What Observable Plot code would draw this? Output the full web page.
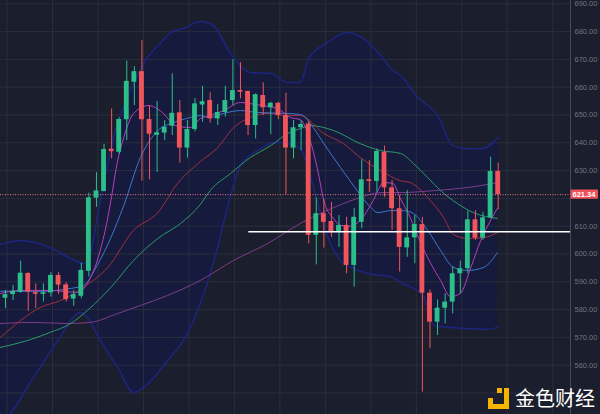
<!DOCTYPE html>
<html><head><meta charset="utf-8">
<script src="https://cdn.jsdelivr.net/npm/d3@7"></script>
<script src="https://cdn.jsdelivr.net/npm/@observablehq/plot@0.6"></script>
<style>
html,body{margin:0;padding:0;background:#1b1e2c;}
#wrap{position:relative;width:600px;height:414px;overflow:hidden;}
#wm{position:absolute;left:488px;top:387px;height:22px;display:flex;align-items:center;}
#wm span{font-family:"Noto Sans CJK SC",sans-serif;font-size:20px;line-height:22px;color:#ffffff;margin-left:6px;letter-spacing:0px;}
</style></head><body>
<div id="wrap"><div id="chart"></div>
<div id="wm"><svg width="21" height="21" viewBox="0 0 21 21"><rect x="9" y="0" width="5" height="5" fill="#f5b400"/><rect x="16" y="0" width="5" height="21" fill="#f5b400"/><rect x="0" y="16" width="21" height="5" fill="#f5b400"/><rect x="0" y="10" width="5" height="6" fill="#f5b400"/></svg><span>金色财经</span></div>
</div>
<script>
// Candles (index 0..65)
const open = [584.1,585.4,586.2,593.0,586.1,585.5,586.0,592.3,588.9,583.8,
  584.8,593.8,620.1,622.5,637.7,636.6,648.3,661.8,665.6,648.4,
  642.7,643.5,646.0,650.8,638.1,644.8,653.6,655.2,648.6,650.9,
  655.2,658.8,658.5,646.2,657.0,652.6,654.2,649.8,638.1,645.4,
  646.8,606.7,614.5,611.7,608.1,610.3,595.9,611.4,626.7,626.1,
  636.6,623.8,616.3,602.2,605.8,610.6,585.9,575.5,580.5,582.7,
  592.9,594.7,612.3,605.7,613.0,629.7];
const high = [586.9,588.7,597.4,593.3,589.3,589.3,593.3,593.3,589.7,586.9,
  596.7,621.9,629.3,639.4,652.2,649.0,669.4,667.4,676.8,653.4,
  654.9,648.0,664.8,655.2,648.0,655.9,660.3,658.0,653.8,660.3,
  669.9,668.8,658.5,657.6,661.6,654.6,654.6,657.8,648.0,648.0,
  647.8,620.2,619.6,618.6,613.8,613.2,616.3,633.9,633.6,637.8,
  638.8,626.4,621.0,622.8,613.8,613.2,587.1,583.5,585.7,595.5,
  597.4,615.4,615.6,615.0,634.8,632.7];
const low = [580.4,583.3,585.9,579.4,580.4,582.7,584.5,585.4,582.7,581.2,
  583.9,591.7,616.8,622.3,634.2,635.8,640.8,653.4,626.2,626.7,
  629.4,640.8,642.6,632.7,634.5,644.0,647.4,647.1,646.2,649.2,
  653.4,655.8,642.6,641.4,649.8,642.9,648.3,621.4,634.2,637.2,
  603.7,596.1,602.1,606.0,602.4,592.9,588.1,609.1,622.2,622.2,
  620.4,608.5,593.5,598.8,596.5,550.3,565.9,570.7,574.9,578.5,
  585.7,592.9,604.9,604.9,612.7,615.9];
const close = [585.4,586.6,593.1,586.3,585.5,586.1,592.3,588.8,583.6,585.4,
  594.1,620.2,622.7,637.6,636.8,648.4,662.1,665.6,648.3,643.1,
  643.6,645.6,650.6,638.1,644.8,654.0,654.8,648.6,650.9,655.2,
  658.8,658.2,646.2,657.3,652.6,654.2,649.8,638.1,645.4,646.6,
  606.7,614.5,611.4,608.1,610.3,595.9,613.2,626.7,626.1,636.9,
  623.8,616.3,602.4,605.8,610.6,585.9,575.5,580.5,582.7,592.9,
  594.7,612.3,605.7,613.0,629.7,621.34];

// Bollinger bands (position in candle index, price)
const upperIdx = [-0.66,2.0,5.9,8.6,10.3,11.0,12.5,14.5,16.5,18.2,20.5,21.8,23.5,25.7,27.4,29.7,32.3,35.0,37.2,38.9,40.0,42.5,45.1,47.2,49.5,51.1,52.1,54.4,57.0,59.0,61.0,62.9,65.0];
const upperVal = [603.4,604.9,602.3,598.4,596.6,598.4,619.2,644.4,658.8,668.5,676.1,679.7,681.1,683.6,682.2,672.1,665.3,664.9,661.7,661.7,670.3,676.1,679.7,677.5,671.4,666.0,664.2,656.3,649.8,639.0,637.9,637.9,641.9];
const lowerIdx = [-0.66,0.66,3.7,6.9,9.9,10.8,12.5,14.8,16.9,18.2,21.4,24.0,25.7,27.7,29.7,31.0,33.2,35.9,38.9,40.2,42.2,44.2,45.9,48.5,50.8,52.1,53.8,55.1,56.5,58.7,61.0,63.6,64.9];
const lowerVal = [538.5,542.7,555.6,568.9,579.0,577.2,568.9,559.2,550.2,552.0,561.7,571.4,582.2,599.5,621.0,631.8,637.2,640.1,637.9,628.2,608.5,597.7,594.8,592.6,591.9,589.8,587.6,585.1,574.3,573.6,573.2,572.9,573.6];

// Moving averages
const ma5Idx = [-0.66,2.0,5.9,9.5,10.8,12.5,13.5,13.9,14.8,15.6,16.9,18.9,20.7,22.4,24.4,25.7,27.0,28.8,31.0,32.3,33.9,35.9,37.6,38.9,40.2,41.2,42.0,43.3,44.2,45.5,47.1,48.5,49.9,51.1,52.1,53.4,54.8,56.1,57.4,58.7,60.0,61.4,62.7,64.0,64.9];
const ma5Val = [585.8,586.9,586.9,586.2,589.4,601.3,613.1,619.2,633.6,641.9,650.6,653.4,650.9,646.2,645.5,648.7,649.8,651.6,654.5,654.1,653.4,652.3,649.1,648.3,640.8,630.0,619.2,612.7,610.3,610.0,613.1,619.2,625.7,625.4,620.0,613.1,603.8,596.6,590.5,584.7,585.8,595.2,604.9,612.1,616.4];
const ma10Idx = [-0.66,4.6,8.6,10.3,12.1,13.9,15.6,17.8,20.1,22.2,24.4,25.7,27.0,28.8,31.0,33.2,36.7,38.9,40.6,42.0,44.2,46.4,48.2,49.1,50.8,52.5,53.8,55.7,57.4,59.1,61.0,63.1,64.9];
const ma10Val = [586.6,586.6,587.6,588.7,595.9,605.9,617.4,634.7,644.4,647.3,649.1,649.8,649.1,650.6,651.6,650.9,650.6,650.2,645.5,639.7,631.1,622.8,616.7,614.9,615.6,615.6,614.6,608.5,601.3,595.2,594.1,595.2,600.5];
const ma20Idx = [-0.66,2.0,4.6,7.3,10.3,13.5,16.9,20.1,22.7,25.7,28.0,30.1,32.3,34.6,37.2,38.9,42.0,44.6,46.8,49.5,52.1,53.4,55.7,57.8,59.1,61.0,63.1,64.9];
const ma20Val = [570.0,576.1,580.8,583.3,588.0,595.2,608.5,614.9,625.4,633.2,638.3,645.5,649.1,650.6,649.8,649.8,643.3,639.7,634.7,630.0,626.4,625.7,620.3,613.1,607.0,605.6,605.9,607.7];
const ma30Idx = [-0.66,2.9,5.9,8.6,10.8,13.9,16.9,20.1,23.1,25.7,27.0,29.7,32.3,35.0,37.2,38.9,40.2,43.3,46.8,49.5,52.1,53.8,55.7,57.4,59.6,61.7,64.9];
const ma30Val = [566.4,568.9,571.8,575.0,579.7,588.0,597.7,605.6,611.0,617.8,622.8,629.0,634.7,639.0,643.3,645.1,646.2,644.4,639.7,637.2,636.2,632.6,627.5,622.8,618.2,614.9,612.8];
const ma60Idx = [-0.66,3.7,8.2,11.2,14.8,17.8,21.4,25.7,30.1,34.6,38.9,43.3,46.8,49.5,52.1,56.5,60.0,62.7,64.9];
const ma60Val = [575.0,575.4,575.0,575.4,578.6,581.5,585.1,590.5,597.7,603.8,611.0,616.7,620.3,622.1,622.1,622.8,623.6,624.6,625.7];

// Levels and ticks (620.00 is hidden under the last-price tag in the reference)
const levelValue = [608.0];
const levelStart = [32.1];
const lastPrice = [621.34];
const yTicks = [560,570,580,590,600,610,630,640,650,660,670,680,690];
const gridValues = [550,560,570,580,590,600,610,620,630,640,650,660,670,680,690];
const gridXTicks = [0.2,6.2,12.2,18.2,24.2,30.2,36.2,42.2,48.2,54.2,60.2,66.2,72.2];

const xDomain = [-0.66, 74.54];
const yDomain = [542.27, 691.19];

const GREEN = "#2bbf8b", RED = "#f0555b";
const candles = close.map((c, i) => ({i, o: open[i], h: high[i], l: low[i], c, col: c >= open[i] ? GREEN : RED}));
const zip = (xs, ys) => xs.map((x, k) => ({x, y: ys[k]}));
const band = upperIdx.map((x, k) => ({x1: x, y1: upperVal[k], x2: lowerIdx[k], y2: lowerVal[k]}));

const plot = Plot.plot({
  width: 600, height: 414,
  marginLeft: 0, marginRight: 30, marginTop: 0, marginBottom: 0,
  style: {background: "#1b1e2c", color: "#70747f", fontFamily: "Liberation Sans, Arial, sans-serif", fontSize: "7.5px"},
  x: {domain: xDomain, axis: null},
  y: {domain: yDomain, axis: null},
  color: {type: "identity"},
  marks: [
    Plot.area(band, {x1: "x1", y1: "y1", x2: "x2", y2: "y2", fill: "#161a3d", curve: "monotone-x"}),
    Plot.ruleY(gridValues, {stroke: "#2a2e3d", strokeWidth: 1}),
    Plot.ruleX(gridXTicks, {stroke: "#2a2e3d", strokeWidth: 1}),
    Plot.line(zip(upperIdx, upperVal), {x: "x", y: "y", stroke: "#1c257f", strokeWidth: 1.5, curve: "monotone-x"}),
    Plot.line(zip(lowerIdx, lowerVal), {x: "x", y: "y", stroke: "#1c257f", strokeWidth: 1.5, curve: "monotone-x"}),
    Plot.line(zip(ma60Idx, ma60Val), {x: "x", y: "y", stroke: "#7d3d8c", strokeWidth: 1, curve: "monotone-x"}),
    Plot.line(zip(ma30Idx, ma30Val), {x: "x", y: "y", stroke: "#2b9b6b", strokeWidth: 1, curve: "monotone-x"}),
    Plot.line(zip(ma20Idx, ma20Val), {x: "x", y: "y", stroke: "#a3303e", strokeWidth: 1, curve: "monotone-x"}),
    Plot.line(zip(ma10Idx, ma10Val), {x: "x", y: "y", stroke: "#3b78cf", strokeWidth: 1, curve: "monotone-x"}),
    Plot.line(zip(ma5Idx, ma5Val), {x: "x", y: "y", stroke: "#b63fbc", strokeWidth: 1, curve: "monotone-x"}),
    Plot.ruleY(lastPrice, {stroke: "#f07a88", strokeWidth: 1, strokeDasharray: "1,1.5"}),
    Plot.ruleX(candles, {x: "i", y1: "l", y2: "h", stroke: "col", strokeWidth: 1}),
    Plot.rect(candles, {x1: d => d.i - 0.32, x2: d => d.i + 0.32, y1: "o", y2: "c", fill: "col"}),
    Plot.ruleY(levelValue, {x1: levelStart[0], x2: xDomain[1], stroke: "#ffffff", strokeWidth: 1.5}),
    Plot.ruleX([xDomain[1]], {stroke: "#474b58", strokeWidth: 1}),
    Plot.axisY({anchor: "right", ticks: yTicks, tickSize: 0, tickPadding: 4, tickFormat: d3.format(".2f"), label: null, fill: "#70747f", fontSize: 7.5})
  ]
});
document.getElementById("chart").appendChild(plot);

const svg = d3.select(plot);
const yy = plot.scale("y").apply(lastPrice[0]);
const xr = plot.scale("x").apply(xDomain[1]);
svg.append("rect").attr("x", xr + 0.5).attr("y", yy - 4.6).attr("width", 27.5).attr("height", 9.2).attr("fill", "#f0525a").attr("rx", 1);
svg.append("text").attr("x", xr + 14).attr("y", yy).attr("dy", "0.36em").attr("text-anchor", "middle")
  .attr("fill", "#ffffff").attr("font-size", 7.5).attr("font-weight", "bold")
  .attr("font-family", "Liberation Sans, Arial, sans-serif").text(d3.format(".2f")(lastPrice[0]));
</script>
</body></html>
